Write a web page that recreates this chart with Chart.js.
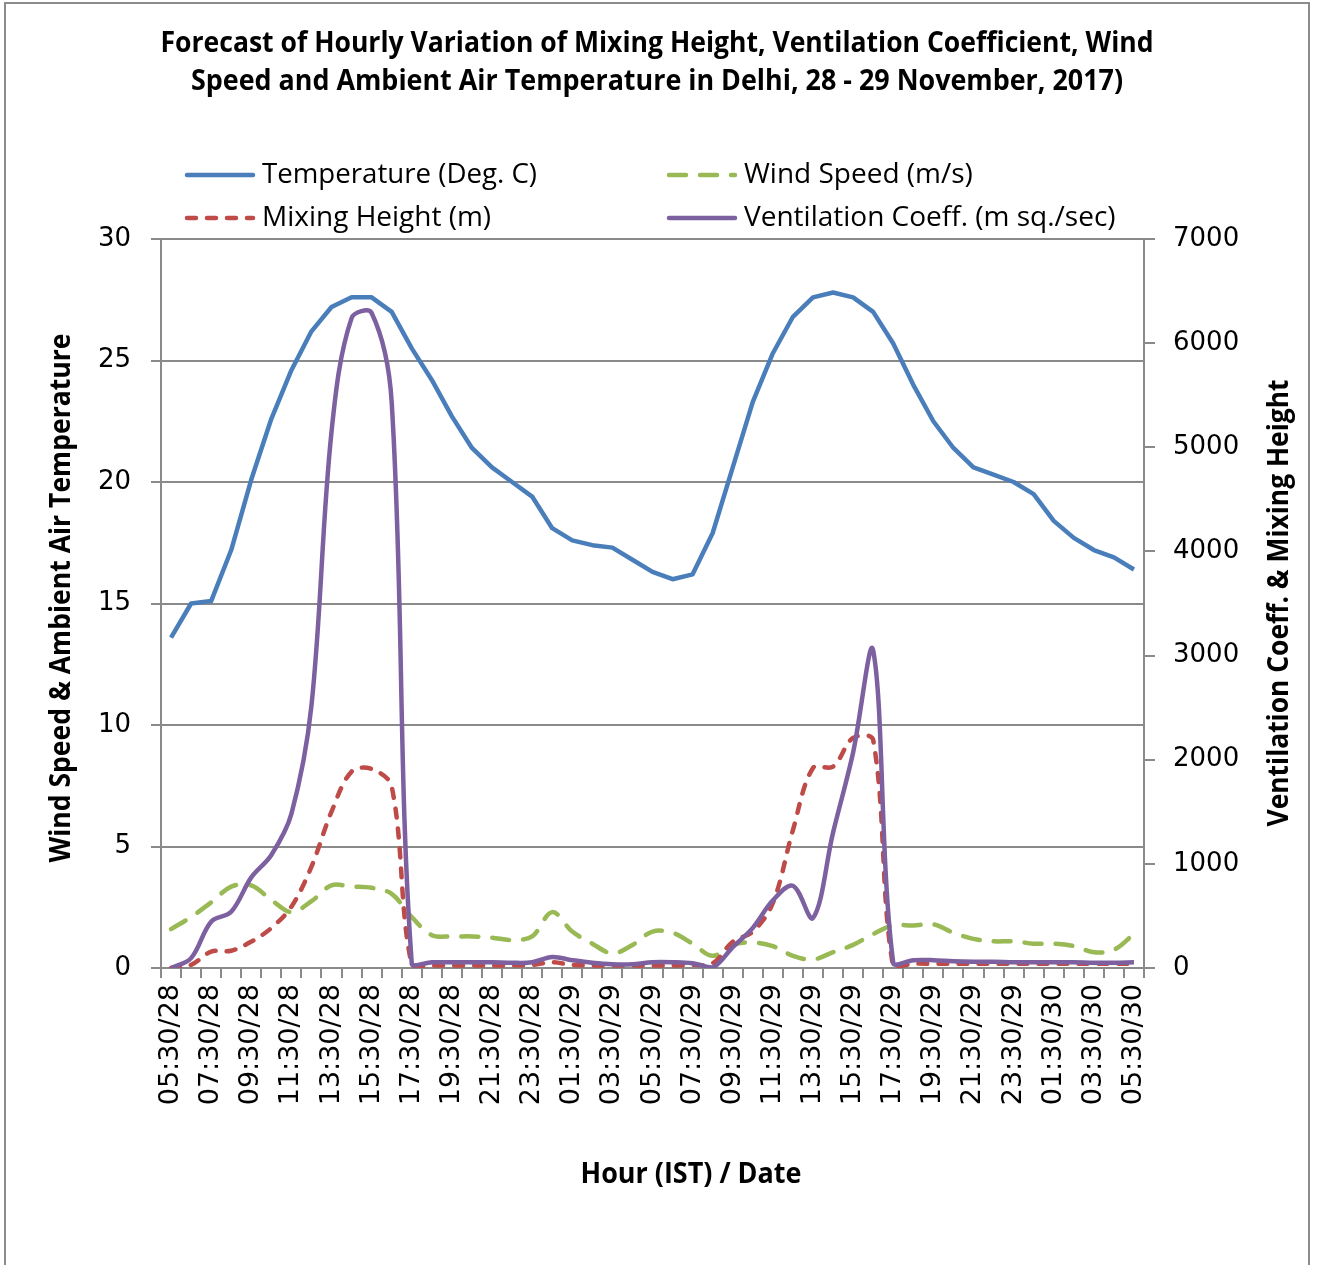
<!DOCTYPE html>
<html>
<head>
<meta charset="utf-8">
<script src="https://cdn.jsdelivr.net/npm/chart.js@4.4.1/dist/chart.umd.min.js"></script>
<style>
  html, body { margin: 0; padding: 0; background: #fff; overflow: hidden; }
  #frame { position: absolute; left: 4px; top: 2px; width: 1306px; height: 1320px; border: 2px solid #8c8c8c; box-sizing: border-box; }
  #chart { position: absolute; left: 0; top: 0; }
</style>
</head>
<body>
<div id="frame"></div>
<canvas id="chart" width="1317" height="1265"></canvas>
<script>
const titleLines = [
  "Forecast of Hourly Variation of Mixing Height, Ventilation Coefficient, Wind",
  "Speed and Ambient Air Temperature in Delhi, 28 - 29 November, 2017)",
];
const xTitle = "Hour (IST) / Date";
const yLeftTitle = "Wind Speed & Ambient Air Temperature";
const yRightTitle = "Ventilation Coeff. & Mixing Height";

const hours = [
  "05:30/28", "06:30/28", "07:30/28", "08:30/28", "09:30/28", "10:30/28", "11:30/28",
  "12:30/28", "13:30/28", "14:30/28", "15:30/28", "16:30/28", "17:30/28", "18:30/28",
  "19:30/28", "20:30/28", "21:30/28", "22:30/28", "23:30/28", "00:30/29", "01:30/29",
  "02:30/29", "03:30/29", "04:30/29", "05:30/29", "06:30/29", "07:30/29", "08:30/29",
  "09:30/29", "10:30/29", "11:30/29", "12:30/29", "13:30/29", "14:30/29", "15:30/29",
  "16:30/29", "17:30/29", "18:30/29", "19:30/29", "20:30/29", "21:30/29", "22:30/29",
  "23:30/29", "00:30/30", "01:30/30", "02:30/30", "03:30/30", "04:30/30", "05:30/30",
];

// deg C
const temperature = [
  13.6, 15.0, 15.1, 17.2, 20.1, 22.6, 24.6, 26.2, 27.2, 27.6, 27.6, 27.0, 25.5, 24.2,
  22.7, 21.4, 20.6, 20.0, 19.4, 18.1, 17.6, 17.4, 17.3, 16.8, 16.3, 16.0, 16.2, 17.9,
  20.6, 23.3, 25.3, 26.8, 27.6, 27.8, 27.6, 27.0, 25.7, 24.0, 22.5, 21.4, 20.6, 20.3,
  20.0, 19.5, 18.4, 17.7, 17.2, 16.9, 16.4,
];

// m/s
const windSpeed = [
  1.6, 2.1, 2.7, 3.35, 3.4, 2.8, 2.3, 2.75, 3.4, 3.35, 3.3, 3.05, 2.1, 1.35,
  1.3, 1.3, 1.25, 1.15, 1.3, 2.3, 1.5, 1.0, 0.6, 0.95, 1.5, 1.45, 1.0, 0.5,
  0.95, 1.05, 0.9, 0.5, 0.35, 0.65, 0.95, 1.4, 1.75, 1.75, 1.8, 1.45, 1.2, 1.1,
  1.1, 1.0, 1.0, 0.9, 0.65, 0.75, 1.4,
];

// m
const mixingHeight = [
  0, 30, 157, 166, 253, 384, 589, 973, 1501, 1886, 1911, 1742, 30, 25,
  25, 25, 25, 25, 30, 55, 30, 25, 25, 25, 25, 25, 30, 45,
  253, 349, 624, 1325, 1921, 1934, 2209, 2190, 10, 40, 40, 40, 40, 40,
  40, 40, 40, 40, 40, 40, 40,
];

// m sq./sec
const ventilation = [
  0, 95, 445, 540, 870, 1085, 1480, 2520, 5150, 6240, 6290, 5430, 40, 55,
  55, 55, 55, 50, 55, 105, 75, 50, 35, 35, 55, 55, 45, 5,
  200, 385, 650, 790, 480, 1300, 2070, 3050, 50, 75, 75, 65, 60, 60,
  55, 55, 55, 55, 50, 50, 55,
];

const gridColor = "#8a8a8a";
const tickFont = { family: "DejaVu Sans", size: 26 };
const textFont = '"Open Sans", "Liberation Sans", sans-serif';

// title, axis titles and the two-column legend, drawn straight on the canvas
const decorPlugin = {
  id: "decor",
  afterDraw(chart) {
    const { ctx } = chart;
    const ds = chart.data.datasets;
    ctx.save();
    ctx.fillStyle = "#000";
    ctx.textBaseline = "middle";

    ctx.textAlign = "center";
    ctx.font = `bold 28px ${textFont}`;
    ctx.fillText(titleLines[0], 657, 44, 993);
    ctx.fillText(titleLines[1], 657, 82, 932);

    ctx.fillText(xTitle, 691, 1175, 221);

    ctx.save();
    ctx.translate(62, 598);
    ctx.rotate(-Math.PI / 2);
    ctx.fillText(yLeftTitle, 0, 0, 529);
    ctx.restore();

    ctx.save();
    ctx.translate(1280, 603);
    ctx.rotate(-Math.PI / 2);
    ctx.fillText(yRightTitle, 0, 0, 447);
    ctx.restore();

    const legendItems = [
      { d: ds[0], x: 185, y: 175, w: 275 },
      { d: ds[1], x: 667, y: 175, w: 231 },
      { d: ds[2], x: 185, y: 218, w: 231 },
      { d: ds[3], x: 667, y: 218, w: 372 },
    ];
    ctx.textAlign = "left";
    ctx.font = `28px ${textFont}`;
    legendItems.forEach(({ d, x, y, w }) => {
      ctx.beginPath();
      ctx.strokeStyle = d.borderColor;
      ctx.lineWidth = d.borderWidth;
      ctx.lineCap = "round";
      ctx.setLineDash(d.borderDash || []);
      ctx.moveTo(x + 2, y);
      ctx.lineTo(x + 68, y);
      ctx.stroke();
      ctx.setLineDash([]);
      ctx.fillText(d.label, x + 77, y, w);
    });
    ctx.restore();
  },
};

new Chart(document.getElementById("chart"), {
  type: "line",
  data: {
    labels: hours,
    datasets: [
      {
        label: "Temperature (Deg. C)",
        data: temperature,
        yAxisID: "y",
        borderColor: "#4a7ebb",
        borderWidth: 4.5,
        tension: 0,
        order: 3,
      },
      {
        label: "Wind Speed (m/s)",
        data: windSpeed,
        yAxisID: "y",
        borderColor: "#98b954",
        borderWidth: 4.5,
        borderDash: [17, 14],
        borderCapStyle: "round",
        tension: 0.35,
        order: 2,
      },
      {
        label: "Mixing Height (m)",
        data: mixingHeight,
        yAxisID: "y1",
        borderColor: "#be4b48",
        borderWidth: 4.5,
        borderDash: [9, 11],
        borderCapStyle: "round",
        tension: 0.35,
        order: 1,
      },
      {
        label: "Ventilation Coeff. (m sq./sec)",
        data: ventilation,
        yAxisID: "y1",
        borderColor: "#7d60a0",
        borderWidth: 4.5,
        tension: 0.35,
        order: 0,
      },
    ],
  },
  options: {
    responsive: false,
    animation: false,
    layout: { padding: { top: 239 } },
    elements: { point: { radius: 0 }, line: { borderJoinStyle: "round" } },
    plugins: {
      legend: { display: false },
      title: { display: false },
      tooltip: { enabled: false },
    },
    scales: {
      x: {
        offset: true,
        grid: { offset: true, drawOnChartArea: false, color: gridColor, lineWidth: 2, tickLength: 10 },
        border: { color: gridColor, width: 2 },
        ticks: {
          autoSkip: false,
          minRotation: 90,
          maxRotation: 90,
          padding: 6,
          color: "#000",
          font: { family: "DejaVu Sans", size: 27 },
          callback: (value, index) => (index % 2 === 0 ? hours[index] : ""),
        },
        afterFit: (scale) => { scale.height = 297; },
      },
      y: {
        position: "left",
        min: 0,
        max: 30,
        ticks: { stepSize: 5, padding: 20, color: "#000", font: tickFont },
        grid: { color: gridColor, lineWidth: 2, tickLength: 10 },
        border: { color: gridColor, width: 2 },
        afterFit: (scale) => { scale.width = 161; },
      },
      y1: {
        position: "right",
        min: 0,
        max: 7000,
        ticks: { stepSize: 1000, padding: 18, color: "#000", font: tickFont, callback: (value) => String(value) },
        grid: { drawOnChartArea: false, color: gridColor, lineWidth: 2, tickLength: 11 },
        border: { color: gridColor, width: 2 },
        afterFit: (scale) => { scale.width = 173; },
      },
    },
  },
  plugins: [decorPlugin],
});
</script>
</body>
</html>
